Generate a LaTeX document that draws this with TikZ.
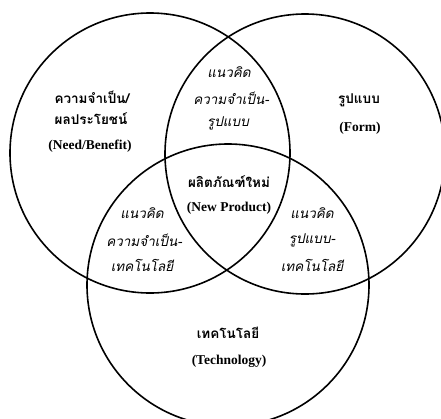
\documentclass[tikz,border=0pt]{standalone}
\usepackage{fontspec}
\setmainfont{Liberation Serif}
\newfontfamily\thaifont[Script=Thai,ItalicFont={Loma Oblique},BoldFont={Loma Bold}]{Loma}
\begin{document}
\begin{tikzpicture}[x=1pt,y=-1pt,
  ring/.style={draw=black,line width=1.6pt},
  thb/.style={font=\thaifont\bfseries\fontsize{13.5}{15}\selectfont,inner sep=0pt},
  thi/.style={font=\thaifont\itshape\fontsize{13.5}{15}\selectfont,inner sep=0pt},
  enb/.style={font=\bfseries\fontsize{13.5}{15}\selectfont,inner sep=0pt}]
\useasboundingbox (0,0) rectangle (441,418);
\clip (0,0) rectangle (441,418);
\fill[white] (0,0) rectangle (441,418);
\coordinate (cA) at (150,153);
\coordinate (cB) at (305,154);
\coordinate (cC) at (228,285);
\draw[ring] (cA) circle[radius=140];
\draw[ring] (cB) circle[radius=140];
\draw[ring] (cC) circle[radius=141];
% left
\node[thb] (a1) at (92,97) {ความจำเป็น/};
\node[thb] (a2) at (91,119) {ผลประโยชน์};
\node[enb] (a3) at (90,146) {(Need/Benefit)};
% right
\node[thb] (b1) at (359,100) {รูปแบบ};
\node[enb] (b2) at (360,128) {(Form)};
% bottom
\node[thb] (c1) at (228,333) {เทคโนโลยี};
\node[enb] (c2) at (229,361) {(Technology)};
% top intersection
\node[thi] (ab1) at (229,72) {แนวคิด};
\node[thi] (ab2) at (231,98) {ความจำเป็น-};
\node[thi] (ab3) at (228,123) {รูปแบบ};
% center
\node[thb] (m1) at (229,182) {ผลิตภัณฑ์ใหม่};
\node[enb] (m2) at (229,208) {(New Product)};
% lower left
\node[thi] (ac1) at (142,213) {แนวคิด};
\node[thi] (ac2) at (144,240) {ความจำเป็น-};
\node[thi] (ac3) at (142,265) {เทคโนโลยี};
% lower right
\node[thi] (bc1) at (312,213) {แนวคิด};
\node[thi] (bc2) at (312,240) {รูปแบบ-};
\node[thi] (bc3) at (312,265) {เทคโนโลยี};
\end{tikzpicture}
\end{document}
